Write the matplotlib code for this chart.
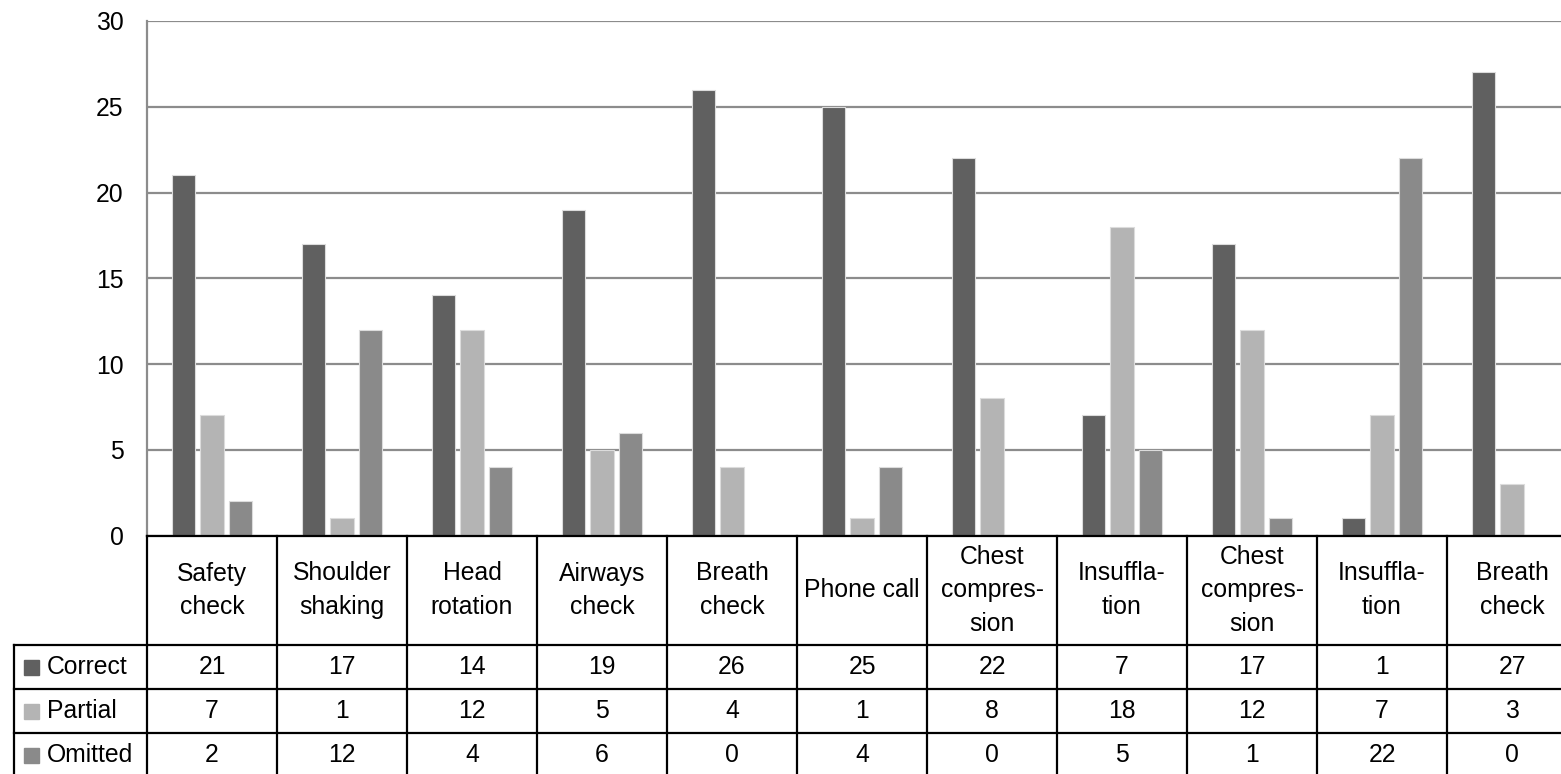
import matplotlib.pyplot as plt
from matplotlib.patches import Rectangle
import numpy as np

plt.rcParams['font.family'] = ['Liberation Sans', 'DejaVu Sans']

steps = ['Safety\ncheck', 'Shoulder\nshaking', 'Head\nrotation', 'Airways\ncheck',
         'Breath\ncheck', 'Phone call', 'Chest\ncompres-\nsion', 'Insuffla-\ntion',
         'Chest\ncompres-\nsion', 'Insuffla-\ntion', 'Breath\ncheck']
series = ['Correct', 'Partial', 'Omitted']
correct = [21, 17, 14, 19, 26, 25, 22, 7, 17, 1, 27]
partial = [7, 1, 12, 5, 4, 1, 8, 18, 12, 7, 3]
omitted = [2, 12, 4, 6, 0, 4, 0, 5, 1, 22, 0]
colors = ['#606060', '#b4b4b4', '#8a8a8a']

W, H = 1561, 774
FS = 17.8

fig = plt.figure(figsize=(W / 100, H / 100), dpi=100)

# chart area: column width 130 px, last column runs past the right edge
x0, colw = 147, 130
ytop, ybase = 21, 535.5
ax = fig.add_axes([x0 / W, (H - ybase) / H, 11 * colw / W, (ybase - ytop) / H])
ax.set_xlim(-0.5, 10.5)
ax.set_ylim(0, 30)
ax.set_yticks(np.arange(0, 31, 5))
ax.set_xticks([])
ax.tick_params(axis='y', length=0, pad=17, labelsize=FS)
ax.yaxis.grid(True, color='#8c8c8c', lw=1.6)
ax.set_axisbelow(True)
for s in ['top', 'right', 'bottom']:
    ax.spines[s].set_visible(False)
ax.spines['left'].set_color('#8c8c8c')
ax.spines['left'].set_linewidth(1.6)

x = np.arange(len(steps))
pitch, bw = 0.223, 0.177
for k, vals in enumerate([correct, partial, omitted]):
    ax.bar(x + (k - 1) * pitch, vals, bw, color=colors[k],
           edgecolor='#dcdcdc', linewidth=0.8, zorder=2)

# data table below the chart, y in pixels from the chart baseline
tax = fig.add_axes([x0 / W, 0, 11 * colw / W, (H - ybase) / H])
tax.set_xlim(-0.5, 10.5)
tax.set_ylim(H - ybase, 0)
tax.axis('off')

left = (14 - x0) / colw - 0.5
hdr_h, row_h = 109.5, 44
lw = 1.6
kw = dict(color='black', lw=lw, clip_on=False, solid_capstyle='projecting')

tax.plot([-0.5, 10.5], [0, 0], **kw)
for i in range(12):
    tax.plot([i - 0.5, i - 0.5], [0, hdr_h + 3 * row_h], **kw)
for r in range(3):
    yy = hdr_h + r * row_h
    tax.plot([left, 10.5], [yy, yy], **kw)
tax.plot([left, left], [hdr_h, hdr_h + 3 * row_h], **kw)

for i, name in enumerate(steps):
    tax.text(i, hdr_h / 2, name, ha='center', va='center', fontsize=FS,
             linespacing=1.5)

for r, (name, vals) in enumerate(zip(series, [correct, partial, omitted])):
    yc = hdr_h + (r + 0.5) * row_h
    tax.add_patch(Rectangle(((24 - x0) / colw - 0.5, yc - 7.5), 15 / colw, 15,
                            color=colors[r], clip_on=False))
    tax.text((47 - x0) / colw - 0.5, yc, name, ha='left', va='center',
             fontsize=FS)
    for i, v in enumerate(vals):
        tax.text(i, yc, str(v), ha='center', va='center', fontsize=FS)

fig.savefig('out.png', dpi=100)
